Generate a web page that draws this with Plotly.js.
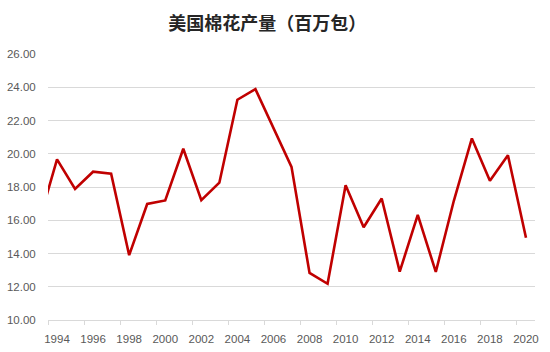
<!DOCTYPE html>
<html>
<head>
<meta charset="utf-8">
<script src="https://cdn.plot.ly/plotly-3.0.1.min.js"></script>
<style>html,body{margin:0;padding:0;background:#fff;}#chart{width:550px;height:352px;}</style>
</head>
<body>
<div id="chart"></div>
<script>
var years = [1993,1994,1995,1996,1997,1998,1999,2000,2001,2002,2003,2004,2005,2006,2007,2008,2009,2010,2011,2012,2013,2014,2015,2016,2017,2018,2019,2020];
var production = [15.9,19.66,17.88,18.92,18.8,13.9,16.98,17.19,20.3,17.21,18.26,23.25,23.89,21.59,19.21,12.83,12.18,18.1,15.58,17.31,12.91,16.32,12.89,17.17,20.92,18.37,19.91,14.95];
var xTickLabels = [1994,1996,1998,2000,2002,2004,2006,2008,2010,2012,2014,2016,2018,2020];
var xTickMarks = [1993.5,1995.5,1997.5,1999.5,2001.5,2003.5,2005.5,2007.5,2009.5,2011.5,2013.5,2015.5,2017.5,2019.5];
var yTicks = [10,12,14,16,18,20,22,24,26];

var traces = [
  {x: years, y: production, type: 'scatter', mode: 'lines',
   line: {color: '#C00000', width: 2.6}, hoverinfo: 'x+y', xaxis: 'x', yaxis: 'y'},
  {x: [1994], y: [10], type: 'scatter', mode: 'lines', opacity: 0, hoverinfo: 'skip',
   showlegend: false, xaxis: 'x2', yaxis: 'y'}
];

var font = "Liberation Sans, Arial, sans-serif";
var layout = {
  width: 550, height: 352,
  margin: {l: 48, r: 15, t: 54, b: 32},
  paper_bgcolor: '#fff', plot_bgcolor: '#fff',
  showlegend: false,
  title: {text: '美国棉花产量（百万包）', x: 0.486, xanchor: 'center', y: 0.934, yanchor: 'middle',
          font: {family: 'Noto Sans CJK SC, sans-serif', size: 18, color: '#262626', weight: 'bold'}},
  xaxis: {range: [1993.5, 2020.5], tickmode: 'array', tickvals: xTickLabels, ticktext: xTickLabels.map(String),
          ticks: 'outside', ticklen: 8, tickcolor: 'rgba(0,0,0,0)', showgrid: false, zeroline: false,
          showline: true, linecolor: '#d9d9d9', linewidth: 1,
          tickfont: {family: font, size: 11.5, color: '#595959'}, fixedrange: true},
  xaxis2: {range: [1993.5, 2020.5], overlaying: 'x', side: 'bottom', tickmode: 'array', tickvals: xTickMarks,
           ticks: 'outside', ticklen: 4, tickcolor: '#d9d9d9', tickwidth: 1, showticklabels: false,
           showgrid: false, zeroline: false, showline: false},
  yaxis: {range: [10, 26], tickmode: 'array', tickvals: yTicks, tickformat: '.2f',
          ticks: 'outside', ticklen: 9, tickcolor: 'rgba(0,0,0,0)',
          showgrid: true, gridcolor: '#d9d9d9', gridwidth: 1, zeroline: false, showline: false,
          tickfont: {family: font, size: 11.5, color: '#595959'}, fixedrange: true}
};

Plotly.newPlot('chart', traces, layout, {displayModeBar: false, staticPlot: true});
</script>
</body>
</html>
